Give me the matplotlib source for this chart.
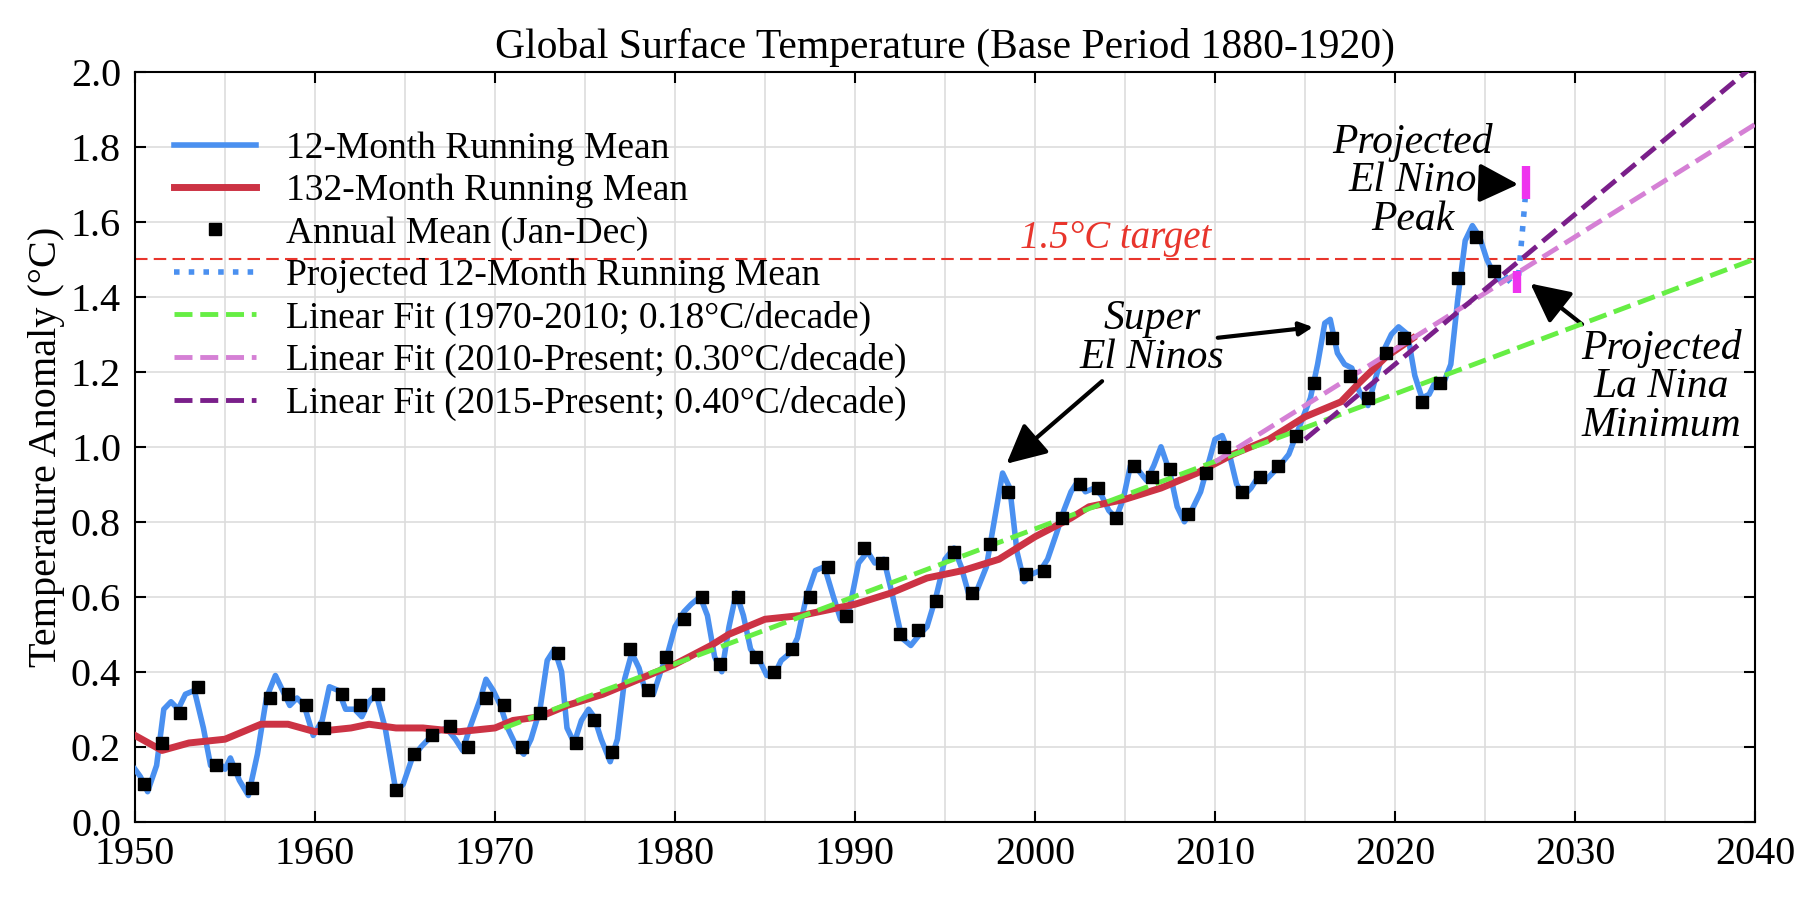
import numpy as np
import matplotlib.pyplot as plt

plt.rcParams['font.family'] = ['Liberation Serif', 'DejaVu Serif']
plt.rcParams['mathtext.fontset'] = 'stix'

# 年平均值 (1月-12月)
annual_years = np.arange(1950, 2026)
annual_mean = [0.10, 0.21, 0.29, 0.36, 0.15, 0.14, 0.09, 0.33, 0.34, 0.31,
               0.25, 0.34, 0.31, 0.34, 0.085, 0.18, 0.23, 0.255, 0.20, 0.33,
               0.31, 0.20, 0.29, 0.45, 0.21, 0.27, 0.185, 0.46, 0.35, 0.44,
               0.54, 0.60, 0.42, 0.60, 0.44, 0.40, 0.46, 0.60, 0.68, 0.55,
               0.73, 0.69, 0.50, 0.51, 0.59, 0.72, 0.61, 0.74, 0.88, 0.66,
               0.67, 0.81, 0.90, 0.89, 0.81, 0.95, 0.92, 0.94, 0.82, 0.93,
               1.00, 0.88, 0.92, 0.95, 1.03, 1.17, 1.29, 1.19, 1.13, 1.25,
               1.29, 1.12, 1.17, 1.45, 1.56, 1.47]

# 12个月滑动平均
rm12_t = [1950.0, 1950.3, 1950.7, 1951.2, 1951.6, 1952.0, 1952.4, 1952.8, 1953.3, 1953.8,
          1954.2, 1954.6, 1955.0, 1955.3, 1955.8, 1956.3, 1956.8, 1957.3, 1957.8, 1958.2,
          1958.6, 1959.0, 1959.4, 1959.9, 1960.4, 1960.8, 1961.3, 1961.7, 1962.2, 1962.6,
          1963.0, 1963.4, 1963.9, 1964.5, 1964.9, 1965.4, 1965.9, 1966.3, 1966.8, 1967.3,
          1967.8, 1968.2, 1968.6, 1969.2, 1969.5, 1969.9, 1970.3, 1970.7, 1971.2, 1971.6,
          1972.0, 1972.5, 1972.9, 1973.3, 1973.7, 1974.0, 1974.4, 1974.8, 1975.2, 1975.5,
          1975.9, 1976.4, 1976.8, 1977.2, 1977.6, 1978.0, 1978.4, 1978.8, 1979.2, 1979.6,
          1980.0, 1980.5, 1980.9, 1981.4, 1981.8, 1982.2, 1982.6, 1983.0, 1983.4, 1983.8,
          1984.2, 1984.7, 1985.1, 1985.5, 1985.9, 1986.4, 1986.8, 1987.3, 1987.8, 1988.3,
          1988.8, 1989.2, 1989.7, 1990.2, 1990.7, 1991.1, 1991.6, 1992.1, 1992.6, 1993.1,
          1993.6, 1994.0, 1994.5, 1995.0, 1995.5, 1995.9, 1996.3, 1996.8, 1997.3, 1997.8,
          1998.2, 1998.6, 1999.0, 1999.4, 1999.8, 2000.3, 2000.7, 2001.2, 2001.6, 2002.0,
          2002.4, 2002.8, 2003.3, 2003.7, 2004.1, 2004.5, 2004.9, 2005.3, 2005.7, 2006.2,
          2006.6, 2007.0, 2007.5, 2007.9, 2008.3, 2008.7, 2009.2, 2009.6, 2010.0, 2010.4,
          2010.8, 2011.2, 2011.6, 2012.0, 2012.4, 2012.8, 2013.2, 2013.6, 2014.1, 2014.5,
          2014.9, 2015.3, 2015.7, 2016.1, 2016.4, 2016.8, 2017.2, 2017.6, 2018.0, 2018.5,
          2018.9, 2019.4, 2019.8, 2020.2, 2020.7, 2021.1, 2021.5, 2021.9, 2022.3, 2022.7,
          2023.1, 2023.5, 2023.9, 2024.3, 2024.7, 2025.1, 2025.5, 2025.9, 2026.2]
rm12_v = [0.14, 0.12, 0.08, 0.15, 0.30, 0.32, 0.30, 0.34, 0.35, 0.25,
          0.15, 0.16, 0.14, 0.17, 0.11, 0.07, 0.18, 0.33, 0.39, 0.35,
          0.31, 0.33, 0.31, 0.23, 0.27, 0.36, 0.35, 0.30, 0.30, 0.28,
          0.32, 0.34, 0.25, 0.08, 0.10, 0.17, 0.20, 0.22, 0.24, 0.25,
          0.22, 0.19, 0.25, 0.33, 0.38, 0.35, 0.31, 0.25, 0.20, 0.18,
          0.22, 0.30, 0.43, 0.46, 0.40, 0.25, 0.21, 0.27, 0.30, 0.28,
          0.22, 0.16, 0.22, 0.38, 0.45, 0.41, 0.34, 0.34, 0.40, 0.45,
          0.52, 0.56, 0.58, 0.60, 0.55, 0.44, 0.40, 0.52, 0.61, 0.55,
          0.46, 0.43, 0.39, 0.39, 0.43, 0.45, 0.49, 0.60, 0.67, 0.68,
          0.60, 0.54, 0.57, 0.69, 0.72, 0.69, 0.70, 0.60, 0.49, 0.47,
          0.50, 0.52, 0.60, 0.70, 0.73, 0.68, 0.61, 0.62, 0.68, 0.82,
          0.93, 0.89, 0.72, 0.64, 0.66, 0.67, 0.70, 0.77, 0.83, 0.88,
          0.91, 0.88, 0.89, 0.87, 0.83, 0.81, 0.86, 0.95, 0.94, 0.91,
          0.95, 1.00, 0.93, 0.84, 0.80, 0.83, 0.88, 0.95, 1.02, 1.03,
          0.98, 0.90, 0.87, 0.89, 0.92, 0.91, 0.93, 0.95, 0.98, 1.03,
          1.08, 1.13, 1.22, 1.33, 1.34, 1.25, 1.22, 1.21, 1.15, 1.11,
          1.18, 1.26, 1.30, 1.32, 1.30, 1.19, 1.13, 1.14, 1.18, 1.17,
          1.22, 1.40, 1.55, 1.59, 1.56, 1.50, 1.46, 1.44, 1.45]

# 预测的12个月滑动平均
proj_t = [2026.2, 2026.8, 2027.3]
proj_v = [1.45, 1.42, 1.70]

# 132个月滑动平均
rm132_t = [1950, 1951.5, 1953, 1955, 1957, 1958.5, 1960, 1962, 1963, 1964.5,
           1966, 1968, 1970, 1971, 1972.5, 1974, 1976, 1978, 1980, 1982,
           1983, 1985, 1987, 1988, 1990, 1992, 1994, 1996, 1998, 2000,
           2002, 2003, 2005, 2007, 2009, 2011, 2013, 2015, 2017, 2018,
           2019.5, 2021]
rm132_v = [0.23, 0.19, 0.21, 0.22, 0.26, 0.26, 0.24, 0.25, 0.26, 0.25,
           0.25, 0.24, 0.25, 0.27, 0.28, 0.31, 0.34, 0.38, 0.42, 0.47,
           0.50, 0.54, 0.55, 0.56, 0.58, 0.61, 0.65, 0.67, 0.70, 0.76,
           0.81, 0.84, 0.86, 0.89, 0.93, 0.98, 1.02, 1.08, 1.12, 1.17,
           1.24, 1.29]

# 线性拟合: (起点年份, 起点值, 斜率 °C/年)
fit_green = (1970.5, 0.25, 0.018)
fit_pink = (2010.0, 0.96, 0.030)
fit_purple = (2015.0, 1.02, 0.040)

# 预测的厄尔尼诺峰值 / 拉尼娜最小值
peak_bar = (2027.3, 1.66, 1.75)
min_bar = (2026.8, 1.41, 1.47)

plt.figure(figsize=(18, 8.99), dpi=100)
plt.axes([0.075, 0.086, 0.9, 0.834])

plt.grid(True, color='#dddddd', linewidth=1.2)
plt.axhline(1.5, color='#e8352c', linestyle='--', linewidth=1.5, dashes=(6, 3))

plt.plot(rm12_t, rm12_v, color='#4a90f0', linewidth=4, label='12-Month Running Mean', zorder=3)
plt.plot(rm132_t, rm132_v, color='#cc3344', linewidth=5, label='132-Month Running Mean', zorder=4)
plt.plot(annual_years + 0.5, annual_mean, 's', color='black', markersize=9,
         label='Annual Mean (Jan-Dec)', zorder=5)
plt.plot(proj_t, proj_v, ':', color='#4a90f0', linewidth=4, label='Projected 12-Month Running Mean', zorder=3)

x_end = 2040
t0, v0, k = fit_green
plt.plot([t0, x_end], [v0, v0 + k * (x_end - t0)], '--', color='#66ee44', linewidth=3.5,
         label='Linear Fit (1970-2010; 0.18°C/decade)', zorder=4)
t0, v0, k = fit_pink
plt.plot([t0, x_end], [v0, v0 + k * (x_end - t0)], '--', color='#d580d5', linewidth=3.5,
         label='Linear Fit (2010-Present; 0.30°C/decade)', zorder=4)
t0, v0, k = fit_purple
plt.plot([t0, x_end], [v0, v0 + k * (x_end - t0)], '--', color='#7a1f8a', linewidth=3.5,
         label='Linear Fit (2015-Present; 0.40°C/decade)', zorder=4)

plt.vlines(peak_bar[0], peak_bar[1], peak_bar[2], color='#ee33ee', linewidth=6, zorder=6)
plt.vlines(min_bar[0], min_bar[1], min_bar[2], color='#ee33ee', linewidth=6, zorder=6)

plt.text(2004.5, 1.53, '1.5°C target', color='#e8352c', fontsize=28, style='italic', ha='center')

arrow = dict(arrowstyle='-|>,head_length=0.8,head_width=0.4', color='black', linewidth=3)
plt.annotate('Super\nEl Ninos', xy=(1998.3, 0.95), xytext=(2006.5, 1.29), fontsize=30,
             style='italic', ha='center', va='center', linespacing=1.0, arrowprops=arrow)
plt.annotate('', xy=(2015.6, 1.32), xytext=(2010.0, 1.29), arrowprops=arrow)
plt.annotate('Projected\nEl Nino\nPeak', xy=(2027.0, 1.70), xytext=(2021.0, 1.71), fontsize=30,
             style='italic', ha='center', va='center', linespacing=1.0, arrowprops=arrow)
plt.annotate('Projected\nLa Nina\nMinimum', xy=(2027.4, 1.44), xytext=(2034.8, 1.16), fontsize=30,
             style='italic', ha='center', va='center', linespacing=1.0, arrowprops=arrow)

plt.xlim(1950, 2040)
plt.ylim(0, 2.0)
plt.xticks(np.arange(1950, 2041, 10), fontsize=29)
plt.yticks(np.arange(0, 2.01, 0.2), ['%.1f' % v for v in np.arange(0, 2.01, 0.2)], fontsize=29)
plt.gca().set_xticks(np.arange(1950, 2041, 5), minor=True)
plt.grid(True, which='minor', axis='x', color='#dddddd', linewidth=1.2)
plt.tick_params(direction='in', length=8, width=1.5, top=True, right=True, pad=10)
plt.tick_params(which='minor', length=0)
for s in plt.gca().spines.values():
    s.set_linewidth(1.5)

plt.ylabel('Temperature Anomaly (°C)', fontsize=29)
plt.title('Global Surface Temperature (Base Period 1880-1920)', fontsize=30, pad=10)
plt.legend(loc='upper left', bbox_to_anchor=(0.01, 0.95), frameon=False, fontsize=27,
           handlelength=2.2, labelspacing=0.2, borderaxespad=0.2)

plt.savefig('out.png')
